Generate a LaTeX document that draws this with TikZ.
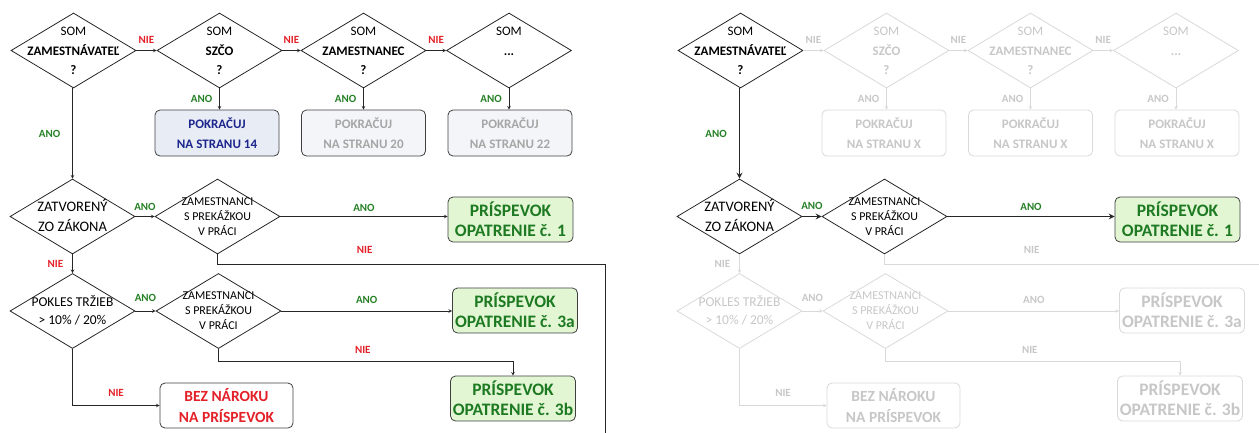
\documentclass[tikz,border=0pt]{standalone}
\usepackage{fontspec}
\setmainfont{Carlito}
\usetikzlibrary{arrows,shapes.geometric}

\definecolor{anocol}{RGB}{38,128,38}
\definecolor{niecol}{RGB}{228,32,40}
\definecolor{navy}{RGB}{28,38,140}
\definecolor{lblue}{RGB}{231,236,245}
\definecolor{lgrey}{RGB}{243,245,248}
\definecolor{lgreen}{RGB}{226,246,212}
\definecolor{dgreen}{RGB}{30,122,34}

\newcommand{\qtxt}[1]{\makebox[0pt]{\smash{\raisebox{-.3em}{\begin{tabular}{@{}c@{}}#1\end{tabular}}}}}

\begin{document}
\begin{tikzpicture}[x=1pt, y=-1pt,
  dec/.style={diamond, draw=black!85, line width=.8pt, minimum width=125pt, minimum height=75pt, inner sep=0pt, font=\fontsize{13}{19.5}\selectfont},
  box/.style={draw=black!75, line width=.8pt, rounded corners=5pt, minimum width=124pt, minimum height=46pt, inner sep=0pt, align=center, font=\bfseries\fontsize{13}{20}\selectfont},
  pblue/.style={box, fill=lblue, text=navy},
  pgrey/.style={box, fill=lgrey, text=black!35},
  pgreen/.style={box, fill=lgreen, text=dgreen, minimum width=125pt, minimum height=45pt, font=\bfseries\fontsize{17.5}{20}\selectfont},
  pred/.style={box, fill=white, text=niecol, minimum width=133pt, minimum height=45pt, font=\bfseries\fontsize{15.5}{21}\selectfont},
  conn/.style={-stealth, line width=.6pt, draw=black!85},
  ano/.style={text=anocol, font=\bfseries\fontsize{11}{13}\selectfont, inner sep=2pt},
  nie/.style={text=niecol, font=\bfseries\fontsize{11}{13}\selectfont, inner sep=2pt},
  panell/.style={off/.style={}, offb/.style={}, offt/.style={}, on/.style={}},
  panelr/.style={off/.style={draw=black!15, text=black!22}, offb/.style={draw=black!15, fill=white, text=black!22}, offt/.style={text=black!22}, on/.style={line width=1.6pt}},
]
\useasboundingbox (0,0) rectangle (1259,432);
\clip (0,0) rectangle (1259,432);

\foreach \p/\sx/\na/\nb/\nc in {l/0/14/20/22, r/667/X/X/X}{
\begin{scope}[xshift=\sx, name prefix=\p-, panel\p]
  % top row
  \node[dec] (d1) at (73.5,50.5) {\qtxt{SOM\\ \textbf{ZAMESTNÁVATEĽ}\\ \textbf{?}}};
  \node[dec,off] (d2) at (219.5,50.5) {\qtxt{SOM\\ \textbf{SZČO}\\ \textbf{?}}};
  \node[dec,off] (d3) at (363.5,50.5) {\qtxt{SOM\\ \textbf{ZAMESTNANEC}\\ \textbf{?}}};
  \node[dec,off] (d4) at (509,50.5) {\qtxt{SOM\\ \textbf{...}\\ ~}};
  \node[pblue,offb] (p14) at (217,133) {POKRAČUJ\\ NA STRANU \na};
  \node[pgrey,offb] (p20) at (363.5,133) {POKRAČUJ\\ NA STRANU \nb};
  \node[pgrey,offb] (p22) at (510,133) {POKRAČUJ\\ NA STRANU \nc};
  % lower part
  \node[dec, font=\fontsize{14.5}{20}\selectfont] (d5) at (72.5,216.5) {\qtxt{ZATVORENÝ\\ ZO ZÁKONA}};
  \node[dec, font=\fontsize{12}{15}\selectfont] (d6) at (217.5,216.5) {\qtxt{ZAMESTNANCI\\ S PREKÁŽKOU\\ V PRÁCI}};
  \node[pgreen] (op1) at (510.5,219.5) {PRÍSPEVOK\\ OPATRENIE č. 1};
  \node[dec,off, font=\fontsize{13.5}{18}\selectfont] (d7) at (72.5,311) {\qtxt{POKLES TRŽIEB\\ > 10\% / 20\%}};
  \node[dec,off, font=\fontsize{12}{15}\selectfont] (d8) at (218.5,311) {\qtxt{ZAMESTNANCI\\ S PREKÁŽKOU\\ V PRÁCI}};
  \node[pgreen,offb] (op3a) at (515,310.5) {PRÍSPEVOK\\ OPATRENIE č. 3a};
  \node[pgreen,offb] (op3b) at (513,398.5) {PRÍSPEVOK\\ OPATRENIE č. 3b};
  \node[pred,offb] (bez) at (226.5,405.5) {BEZ NÁROKU\\ NA PRÍSPEVOK};
  \coordinate (cut) at (605,440);

  \draw[conn,off] (d1) -- node[nie,above=5pt,offt] {NIE} (d2);
  \draw[conn,off] (d2) -- node[nie,above=5pt,offt] {NIE} (d3);
  \draw[conn,off] (d3) -- node[nie,above=5pt,offt] {NIE} (d4);
  \draw[conn,off] (d2.south) -- node[ano,left=5pt,offt] {ANO} (d2.south |- p14.north);
  \draw[conn,off] (d3.south) -- node[ano,left=5pt,offt] {ANO} (d3.south |- p20.north);
  \draw[conn,off] (d4.south) -- node[ano,left=5pt,offt] {ANO} (d4.south |- p22.north);
  \draw[conn,on] (d5.north |- d1.south) -- node[ano,left=10pt] {ANO} (d5.north);
  \draw[conn,on] (d5) -- node[ano,above=4pt] {ANO} (d6);
  \draw[conn,on] (d6.east) -- node[ano,above=3pt] {ANO} (d6.east -| op1.west);
  \draw[conn,-,off] (d6.south) -- ++(0,9.5) -| node[nie,above=8.5pt,pos=.19,offt] {NIE} (cut);
  \draw[conn,off] (d5.south) -- node[nie,left=7pt,offt] {NIE} (d7.north);
  \draw[conn,off] (d7) -- node[ano,above=7.5pt,offt] {ANO} (d8);
  \draw[conn,off] (d8.east) -- node[ano,above=5.5pt,offt] {ANO} (d8.east -| op3a.west);
  \draw[conn,off] (d8.south) -- ++(0,12) -| node[nie,above=5.5pt,pos=.245,offt] {NIE} (op3b.north);
  \draw[conn,off] (d7.south) |- node[nie,above=6.5pt,pos=.75,offt] {NIE} (bez.west);
\end{scope}}
\end{tikzpicture}
\end{document}
